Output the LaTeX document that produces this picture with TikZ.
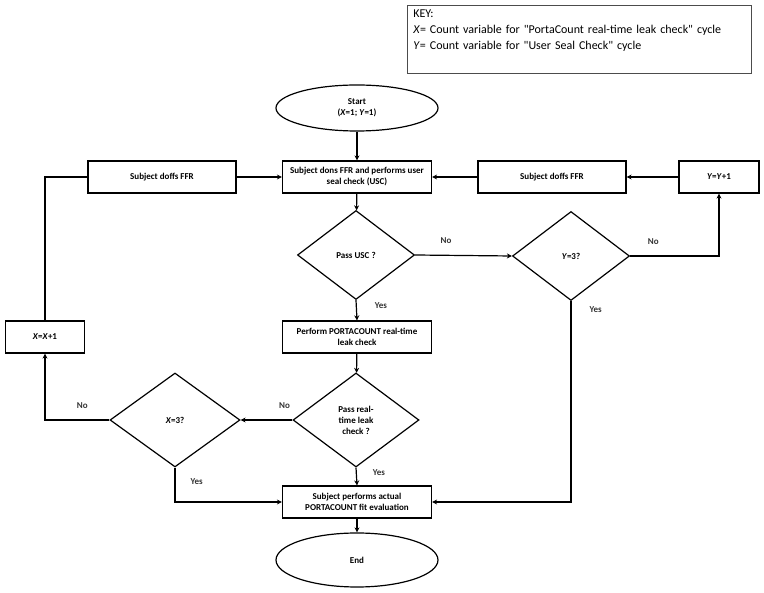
\documentclass[tikz,border=0pt]{standalone}
\usepackage{fontspec}
\setmainfont{Carlito}
\usepackage{tikz}
\usetikzlibrary{
  arrows.meta,
  positioning,
  shapes.geometric,
}

\begin{document}
\begin{tikzpicture}[
  x=1pt, y=-1pt,
  >={Stealth[length=5pt,width=5pt]},
  proc/.style   ={draw, line width=1.2pt, minimum width=149pt,
                  minimum height=32pt, align=center, inner sep=2pt,
                  font=\bfseries\fontsize{9}{11}\selectfont},
  decide/.style ={draw, diamond, line width=1.2pt, minimum width=117pt,
                  minimum height=89pt, inner sep=0pt, align=center,
                  font=\bfseries\fontsize{9}{11}\selectfont},
  term/.style   ={draw, ellipse, line width=1.2pt, minimum width=162pt,
                  minimum height=46pt, align=center, inner sep=0pt,
                  font=\bfseries\fontsize{9}{11}\selectfont},
  keybox/.style ={draw=black!70, line width=0.8pt, minimum width=344pt,
                  minimum height=68pt, text width=332pt, inner xsep=6pt,
                  inner ysep=4pt, align=left,
                  font=\fontsize{12}{16}\selectfont},
  flow/.style   ={->, line width=1.2pt},
  plain/.style  ={line width=1.2pt},
  lbl/.style    ={font=\bfseries\fontsize{9}{10}\selectfont, text=black!80,
                  inner sep=1pt},
]
  \useasboundingbox (0,0) rectangle (764,593);

  % Key in the top right corner
  \node[keybox, anchor=north west] (key) at (407,5)
    {KEY:\\
     \textit{X}= Count variable for \textquotedbl PortaCount real-time leak check\textquotedbl{} cycle\\
     \textit{Y}= Count variable for \textquotedbl User Seal Check\textquotedbl{} cycle\\
     \strut};

  % Main column
  \node[term]   (start)    at (357,108) {Start\\(\textit{X}=1; \textit{Y}=1)};
  \node[proc]   (dons)     at (357,177) {Subject dons FFR and performs user\\seal check (USC)};
  \node[decide] (passusc)  at (356,255) {Pass USC ?};
  \node[proc]   (leak)     at (357,337) {Perform PORTACOUNT real-time\\leak check};
  \node[decide, minimum width=126pt, minimum height=94pt]
                (passleak) at (356,420) {Pass real-\\time leak\\check ?};
  \node[proc]   (fit)      at (357,502) {Subject performs actual\\PORTACOUNT fit evaluation};
  \node[term, minimum height=54pt] (end) at (357,560) {End};

  % USC loop on the right
  \node[decide]                  (ycheck) at (571,256) {\textit{Y}=3?};
  \node[proc, minimum width=80pt] (yinc)  at (719,177) {\textit{Y}=\textit{Y}+1};
  \node[proc, minimum width=148pt] (rdoff) at (552,177) {Subject doffs FFR};

  % leak check loop on the left
  \node[decide, minimum width=130pt, minimum height=94pt]
                                 (xcheck) at (175,420) {\textit{X}=3?};
  \node[proc, minimum width=79pt] (xinc)  at (45,337)  {\textit{X}=\textit{X}+1};
  \node[proc, minimum width=148pt] (ldoff) at (162,177) {Subject doffs FFR};

  \draw[flow] (start) -- (dons);
  \draw[flow] (dons) -- (passusc);
  \draw[flow] (passusc.east) -- (ycheck.west) node[lbl, pos=0.32, above=10pt] {No};
  \draw[flow] (passusc.south) -- (leak.north) node[lbl, pos=0.25, right=17pt] {Yes};
  \draw[flow] (ycheck.east) -| (yinc.south)   node[lbl, pos=0.13, above=10pt] {No};
  \draw[flow] (yinc) -- (rdoff);
  \draw[flow] (rdoff) -- (dons);
  \draw[flow] (ycheck.south) |- (fit.east)    node[lbl, pos=0.02, right=17pt] {Yes};

  \draw[flow] (leak) -- (passleak);
  \draw[flow] (passleak.west) -- (xcheck.east) node[lbl, pos=0.15, above=10pt] {No};
  \draw[flow] (passleak.south) -- (fit.north)  node[lbl, pos=0.3, right=15pt] {Yes};
  \draw[flow] (xcheck.west) -| (xinc.south)    node[lbl, pos=0.21, above=10pt] {No};
  \draw[flow] (xcheck.south) |- (fit.west)     node[lbl, pos=0.21, right=14pt] {Yes};
  \draw[plain] (xinc.north) |- (ldoff.west);
  \draw[flow] (ldoff) -- (dons);

  \draw[flow] (fit) -- (end);
\end{tikzpicture}
\end{document}
